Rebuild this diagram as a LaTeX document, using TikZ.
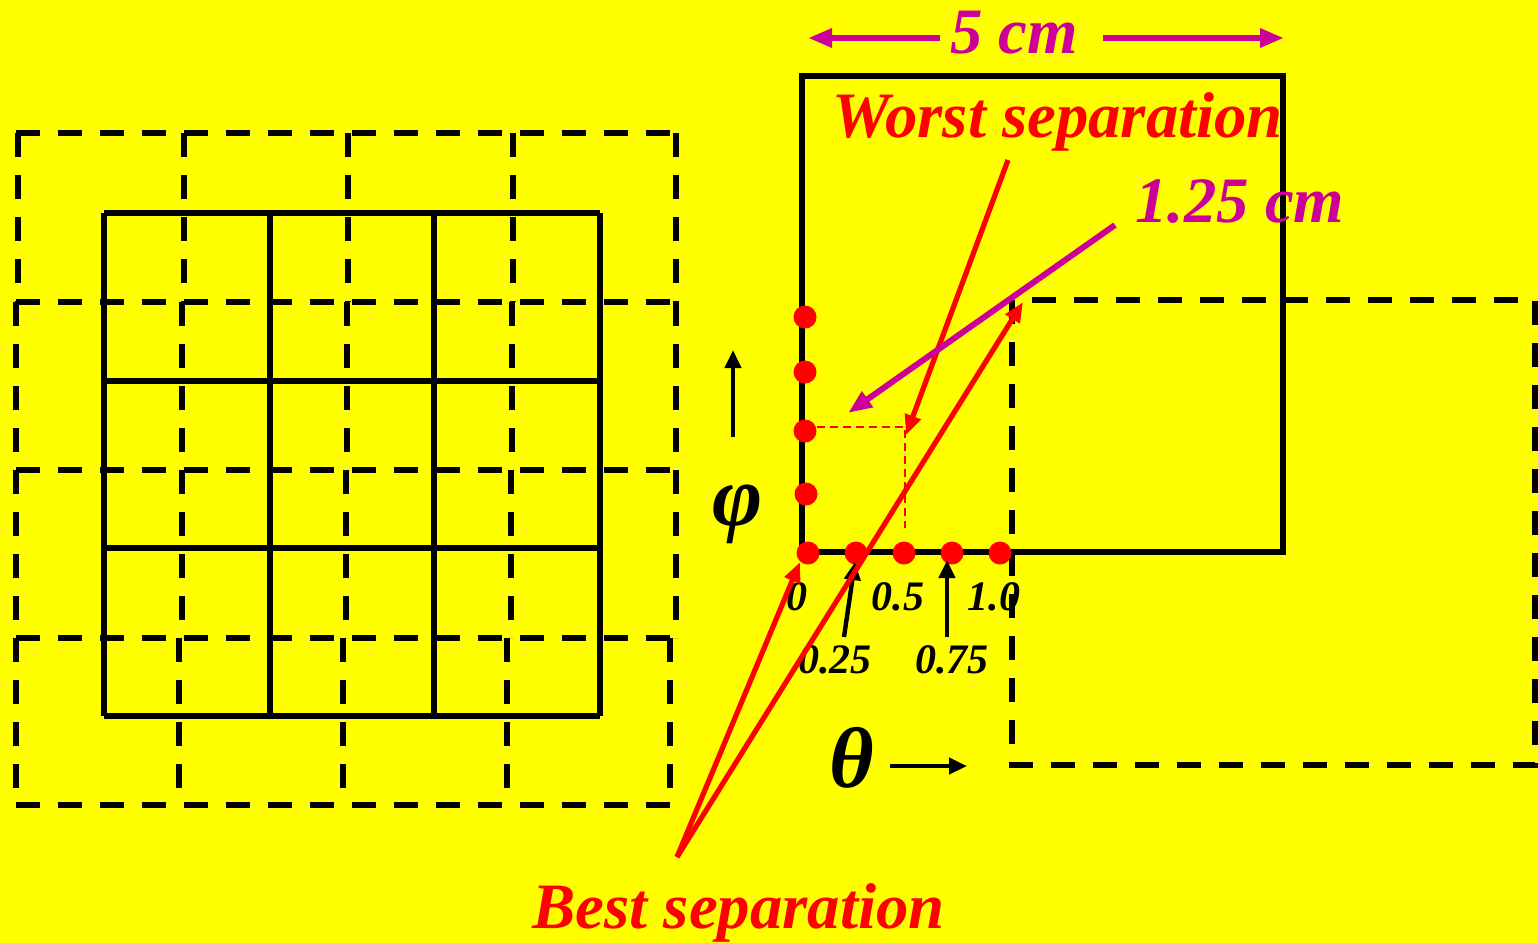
\documentclass[tikz,border=0pt]{standalone}
\usepackage{fontspec}
\setmainfont{Liberation Serif}
\usetikzlibrary{arrows.meta}
\definecolor{bgyellow}{RGB}{255,255,0}
\definecolor{mag}{RGB}{204,0,153}
\begin{document}
\begin{tikzpicture}[x=0.5pt,y=-0.5pt,
  sline/.style={line width=3pt, black},
  dline/.style={line width=3pt, black, dash pattern=on 12pt off 9pt},
  thindash/.style={red, line width=0.8pt, dash pattern=on 4pt off 2.5pt},
  dot/.style={circle, fill=red, inner sep=0pt, minimum size=11.5pt},
  redarrow/.style={red, line width=2.6pt, -{Triangle[length=10pt,width=8pt]}},
  magarrow/.style={mag, line width=3pt, -{Triangle[length=12pt,width=9pt]}},
  blkarrow/.style={black, line width=2.2pt, -{Triangle[length=9pt,width=8pt]}},
  bigtext/.style={font=\fontsize{32.4}{36}\selectfont\bfseries\itshape, inner sep=0pt},
  smalltext/.style={font=\fontsize{21}{24}\selectfont\bfseries\itshape, inner sep=0pt},
  greektext/.style={font=\fontsize{43}{48}\selectfont\bfseries\itshape, inner sep=0pt},
]
\fill[bgyellow] (0,0) rectangle (1538,943);
\useasboundingbox (0,0) rectangle (1538,943);

% ---- left dashed grid (4x4) ----
\foreach \x in {18,184,348,513,676} \draw[dline] (\x,133) -- (\x,302);
\foreach \x in {16,182,347,512,676} \draw[dline] (\x,302) -- (\x,470);
\foreach \x in {16,182,346,511,676} \draw[dline] (\x,470) -- (\x,638);
\foreach \x in {16,179,343,507,670} \draw[dline] (\x,638) -- (\x,805);
\foreach \y in {133,302,470,638} \draw[dline] (16,\y) -- (676,\y);
\draw[dline] (16,805) -- (670,805);

% ---- left solid grid (3x3) ----
\foreach \x in {104,270,434,600} \draw[sline] (\x,213) -- (\x,716);
\foreach \y in {213,381,548,716} \draw[sline] (104,\y) -- (600,\y);

% ---- right dashed square ----
\draw[dline] (1012,300) rectangle (1535,765);

% ---- right solid square ----
\draw[sline] (802,76) rectangle (1283,552);

% ---- dimension arrow 5 cm ----
\node[bigtext, text=mag, anchor=base] (five) at (1014,53) {5 cm};
\coordinate (fl) at (808,38);
\coordinate (fr) at (1284,38);
\coordinate (fls) at (940,38);
\coordinate (frs) at (1103,38);
\draw[magarrow] (fls) -- (fl);
\draw[magarrow] (frs) -- (fr);

% ---- red dots ----
\node[dot] (v1) at (805,317) {};
\node[dot] (v2) at (805,372) {};
\node[dot] (v3) at (805,431) {};
\node[dot] (v4) at (806,494) {};
\node[dot] (d0) at (808,553) {};
\node[dot] (d1) at (856,553) {};
\node[dot] (d2) at (904,553) {};
\node[dot] (d3) at (952,553) {};
\node[dot] (d4) at (1000,553) {};

% ---- red thin dashed guide ----
\coordinate (corner) at (905,427);
\draw[thindash] (v3.east |- corner) -- (corner) -- (905,528);

% ---- labels ----
\node[bigtext, text=red, anchor=base west] (worst) at (832,137) {Worst separation};
\node[bigtext, text=mag, anchor=base west] (onequarter) at (1135,222) {1.25 cm};
\node[bigtext, text=red, anchor=base west] (best) at (532,928) {Best separation};

\node[smalltext] (l0) at (797,597) {0};
\node[smalltext] (l05) at (898,597) {0.5};
\node[smalltext] (l10) at (994,597) {1.0};
\node[smalltext] (l025) at (835,660) {0.25};
\node[smalltext] (l075) at (952,660) {0.75};

\node[greektext] (phi) at (738,514) {φ};
\node[greektext] (theta) at (852,758) {θ};

% ---- black small arrows ----
\coordinate (pa) at (733,437);
\coordinate (pb) at (733,350);
\draw[blkarrow] (pa) -- (pb);
\coordinate (ta) at (890,766);
\coordinate (tb) at (967,766);
\draw[blkarrow] (ta) -- (tb);
\coordinate (a25s) at (844,637);
\coordinate (a25e) at (855,562);
\draw[blkarrow] (a25s) -- (a25e);
\coordinate (a75s) at (947,637);
\coordinate (a75e) at (947,560);
\draw[blkarrow] (a75s) -- (a75e);

% ---- worst separation arrow ----
\coordinate (ws) at (1008,160);
\draw[redarrow] (ws) -- (906,435);

% ---- 1.25 cm arrow ----
\coordinate (ms) at (1115,225);
\coordinate (me) at (848,413);
\draw[magarrow] (ms) -- (me);

% ---- best separation arrows ----
\coordinate (bs) at (677,857);
\coordinate (be1) at (800,562);
\coordinate (be2) at (1023,302);
\draw[redarrow] (bs) -- (be1);
\draw[redarrow] (bs) -- (be2);
\end{tikzpicture}
\end{document}
